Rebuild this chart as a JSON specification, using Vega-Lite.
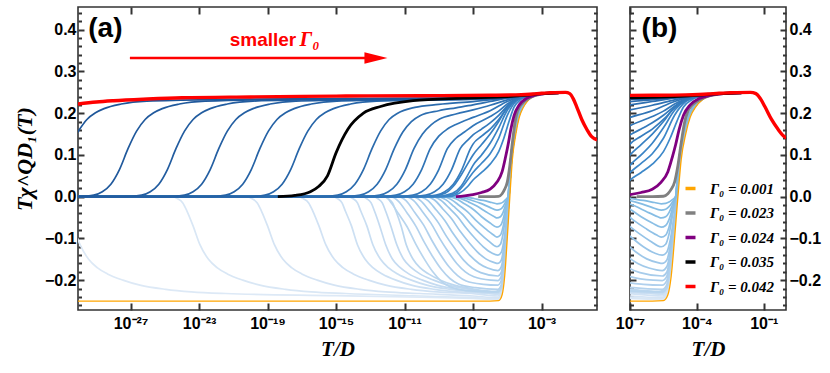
{
"$schema":"https://vega.github.io/schema/vega-lite/v6.json",
"padding":{"left":12,"top":5,"right":0,"bottom":0},
"background":"white",
"config":{
 "view":{"stroke":"#333","strokeWidth":1.6},
 "axis":{"domain":false,"grid":false,"tickColor":"#333","tickWidth":2,"labelFont":"Liberation Sans","labelFontWeight":"bold","labelFontSize":16,"labelColor":"#000","titleFont":"Liberation Serif","titleFontStyle":"italic","titleFontWeight":"bold","titleFontSize":21,"titleColor":"#000"}
},
"datasets":{
"fam":[
{"g":0.002,"T":7.943e-31,"y":-0.1},{"g":0.002,"T":1.122e-30,"y":-0.115},{"g":0.002,"T":3.548e-30,"y":-0.15},{"g":0.002,"T":1.122e-29,"y":-0.17},{"g":0.002,"T":4.467e-29,"y":-0.185},{"g":0.002,"T":3.548e-28,"y":-0.2},{"g":0.002,"T":3.548e-27,"y":-0.212},{"g":0.002,"T":1.122e-25,"y":-0.222},{"g":0.002,"T":3.548e-24,"y":-0.228},{"g":0.002,"T":3.548e-22,"y":-0.232},{"g":0.002,"T":1e-15,"y":-0.237},{"g":0.002,"T":1e-10,"y":-0.241},{"g":0.002,"T":1e-7,"y":-0.244},{"g":0.002,"T":2.818e-6,"y":-0.246},{"g":0.002,"T":4.467e-6,"y":-0.234},{"g":0.002,"T":6.31e-6,"y":-0.185},{"g":0.002,"T":8.913e-6,"y":-0.098},{"g":0.002,"T":1.259e-5,"y":0},{"g":0.002,"T":1.778e-5,"y":0.09},{"g":0.002,"T":2.818e-5,"y":0.15},{"g":0.002,"T":4.467e-5,"y":0.19},{"g":0.002,"T":7.943e-5,"y":0.215},{"g":0.002,"T":1.585e-4,"y":0.232},{"g":0.002,"T":3.548e-4,"y":0.242},{"g":0.002,"T":3.162e-3,"y":0.248},
{"g":0.003,"T":7.943e-31,"y":0},{"g":0.003,"T":2.818e-25,"y":0},{"g":0.003,"T":5.623e-25,"y":-0.005},{"g":0.003,"T":1.122e-24,"y":-0.015},{"g":0.003,"T":1.995e-24,"y":-0.035},{"g":0.003,"T":4.467e-24,"y":-0.07},{"g":0.003,"T":1.122e-23,"y":-0.115},{"g":0.003,"T":3.548e-23,"y":-0.15},{"g":0.003,"T":1.122e-22,"y":-0.17},{"g":0.003,"T":4.467e-22,"y":-0.185},{"g":0.003,"T":3.548e-21,"y":-0.2},{"g":0.003,"T":3.548e-20,"y":-0.212},{"g":0.003,"T":1.122e-18,"y":-0.222},{"g":0.003,"T":3.548e-17,"y":-0.228},{"g":0.003,"T":3.548e-15,"y":-0.232},{"g":0.003,"T":1e-10,"y":-0.238},{"g":0.003,"T":1e-7,"y":-0.242},{"g":0.003,"T":2.818e-6,"y":-0.244},{"g":0.003,"T":4.467e-6,"y":-0.232},{"g":0.003,"T":6.31e-6,"y":-0.183},{"g":0.003,"T":8.913e-6,"y":-0.098},{"g":0.003,"T":1.259e-5,"y":0},{"g":0.003,"T":1.778e-5,"y":0.09},{"g":0.003,"T":2.818e-5,"y":0.15},{"g":0.003,"T":4.467e-5,"y":0.19},{"g":0.003,"T":7.943e-5,"y":0.215},{"g":0.003,"T":1.585e-4,"y":0.232},{"g":0.003,"T":3.548e-4,"y":0.242},{"g":0.003,"T":3.162e-3,"y":0.248},
{"g":0.004,"T":7.943e-31,"y":0},{"g":0.004,"T":6.31e-21,"y":0},{"g":0.004,"T":1.259e-20,"y":-0.005},{"g":0.004,"T":2.512e-20,"y":-0.015},{"g":0.004,"T":4.467e-20,"y":-0.035},{"g":0.004,"T":1e-19,"y":-0.07},{"g":0.004,"T":2.512e-19,"y":-0.115},{"g":0.004,"T":7.943e-19,"y":-0.15},{"g":0.004,"T":2.512e-18,"y":-0.17},{"g":0.004,"T":1e-17,"y":-0.185},{"g":0.004,"T":7.943e-17,"y":-0.2},{"g":0.004,"T":7.943e-16,"y":-0.212},{"g":0.004,"T":2.512e-14,"y":-0.222},{"g":0.004,"T":7.943e-13,"y":-0.228},{"g":0.004,"T":7.943e-11,"y":-0.232},{"g":0.004,"T":1e-7,"y":-0.238},{"g":0.004,"T":2.818e-6,"y":-0.242},{"g":0.004,"T":4.467e-6,"y":-0.23},{"g":0.004,"T":6.31e-6,"y":-0.182},{"g":0.004,"T":8.913e-6,"y":-0.097},{"g":0.004,"T":1.259e-5,"y":0},{"g":0.004,"T":1.778e-5,"y":0.09},{"g":0.004,"T":2.818e-5,"y":0.15},{"g":0.004,"T":4.467e-5,"y":0.19},{"g":0.004,"T":7.943e-5,"y":0.215},{"g":0.004,"T":1.585e-4,"y":0.232},{"g":0.004,"T":3.548e-4,"y":0.242},{"g":0.004,"T":3.162e-3,"y":0.248},
{"g":0.005,"T":7.943e-31,"y":0},{"g":0.005,"T":6.31e-18,"y":0},{"g":0.005,"T":1.259e-17,"y":-0.005},{"g":0.005,"T":2.512e-17,"y":-0.015},{"g":0.005,"T":4.467e-17,"y":-0.035},{"g":0.005,"T":1e-16,"y":-0.07},{"g":0.005,"T":2.512e-16,"y":-0.115},{"g":0.005,"T":7.943e-16,"y":-0.15},{"g":0.005,"T":2.512e-15,"y":-0.17},{"g":0.005,"T":1e-14,"y":-0.185},{"g":0.005,"T":7.943e-14,"y":-0.2},{"g":0.005,"T":7.943e-13,"y":-0.212},{"g":0.005,"T":2.512e-11,"y":-0.222},{"g":0.005,"T":7.943e-10,"y":-0.228},{"g":0.005,"T":7.943e-8,"y":-0.232},{"g":0.005,"T":2.818e-6,"y":-0.238},{"g":0.005,"T":4.467e-6,"y":-0.226},{"g":0.005,"T":6.31e-6,"y":-0.179},{"g":0.005,"T":8.913e-6,"y":-0.095},{"g":0.005,"T":1.259e-5,"y":0},{"g":0.005,"T":1.778e-5,"y":0.09},{"g":0.005,"T":2.818e-5,"y":0.15},{"g":0.005,"T":4.467e-5,"y":0.19},{"g":0.005,"T":7.943e-5,"y":0.215},{"g":0.005,"T":1.585e-4,"y":0.232},{"g":0.005,"T":3.548e-4,"y":0.242},{"g":0.005,"T":3.162e-3,"y":0.248},
{"g":0.006,"T":7.943e-31,"y":0},{"g":0.006,"T":6.31e-16,"y":0},{"g":0.006,"T":1.259e-15,"y":-0.005},{"g":0.006,"T":2.239e-15,"y":-0.015},{"g":0.006,"T":3.548e-15,"y":-0.035},{"g":0.006,"T":7.943e-15,"y":-0.07},{"g":0.006,"T":1.778e-14,"y":-0.115},{"g":0.006,"T":5.012e-14,"y":-0.15},{"g":0.006,"T":1.413e-13,"y":-0.17},{"g":0.006,"T":5.012e-13,"y":-0.185},{"g":0.006,"T":3.162e-12,"y":-0.2},{"g":0.006,"T":2.512e-11,"y":-0.212},{"g":0.006,"T":5.623e-10,"y":-0.222},{"g":0.006,"T":1.259e-8,"y":-0.228},{"g":0.006,"T":7.943e-7,"y":-0.232},{"g":0.006,"T":2.818e-6,"y":-0.234},{"g":0.006,"T":4.467e-6,"y":-0.222},{"g":0.006,"T":6.31e-6,"y":-0.176},{"g":0.006,"T":8.913e-6,"y":-0.094},{"g":0.006,"T":1.259e-5,"y":0},{"g":0.006,"T":1.778e-5,"y":0.09},{"g":0.006,"T":2.818e-5,"y":0.15},{"g":0.006,"T":4.467e-5,"y":0.19},{"g":0.006,"T":7.943e-5,"y":0.215},{"g":0.006,"T":1.585e-4,"y":0.232},{"g":0.006,"T":3.548e-4,"y":0.242},{"g":0.006,"T":3.162e-3,"y":0.248},
{"g":0.007,"T":7.943e-31,"y":0},{"g":0.007,"T":5.012e-15,"y":0},{"g":0.007,"T":1e-14,"y":-0.005},{"g":0.007,"T":1.778e-14,"y":-0.015},{"g":0.007,"T":2.818e-14,"y":-0.035},{"g":0.007,"T":6.31e-14,"y":-0.07},{"g":0.007,"T":1.413e-13,"y":-0.115},{"g":0.007,"T":3.981e-13,"y":-0.15},{"g":0.007,"T":1.122e-12,"y":-0.17},{"g":0.007,"T":3.981e-12,"y":-0.185},{"g":0.007,"T":2.512e-11,"y":-0.2},{"g":0.007,"T":1.995e-10,"y":-0.212},{"g":0.007,"T":4.467e-9,"y":-0.222},{"g":0.007,"T":1e-7,"y":-0.228},{"g":0.007,"T":2.818e-6,"y":-0.232},{"g":0.007,"T":4.467e-6,"y":-0.22},{"g":0.007,"T":6.31e-6,"y":-0.174},{"g":0.007,"T":8.913e-6,"y":-0.093},{"g":0.007,"T":1.259e-5,"y":0},{"g":0.007,"T":1.778e-5,"y":0.09},{"g":0.007,"T":2.818e-5,"y":0.15},{"g":0.007,"T":4.467e-5,"y":0.19},{"g":0.007,"T":7.943e-5,"y":0.215},{"g":0.007,"T":1.585e-4,"y":0.232},{"g":0.007,"T":3.548e-4,"y":0.242},{"g":0.007,"T":3.162e-3,"y":0.248},
{"g":0.008,"T":7.943e-31,"y":0},{"g":0.008,"T":3.548e-14,"y":0},{"g":0.008,"T":6.31e-14,"y":-0.005},{"g":0.008,"T":1.122e-13,"y":-0.015},{"g":0.008,"T":1.778e-13,"y":-0.035},{"g":0.008,"T":3.548e-13,"y":-0.07},{"g":0.008,"T":7.943e-13,"y":-0.115},{"g":0.008,"T":1.995e-12,"y":-0.15},{"g":0.008,"T":5.623e-12,"y":-0.17},{"g":0.008,"T":1.778e-11,"y":-0.185},{"g":0.008,"T":1.122e-10,"y":-0.2},{"g":0.008,"T":7.943e-10,"y":-0.212},{"g":0.008,"T":1.413e-8,"y":-0.222},{"g":0.008,"T":2.512e-7,"y":-0.228},{"g":0.008,"T":2.818e-6,"y":-0.23},{"g":0.008,"T":4.467e-6,"y":-0.219},{"g":0.008,"T":6.31e-6,"y":-0.173},{"g":0.008,"T":8.913e-6,"y":-0.092},{"g":0.008,"T":1.259e-5,"y":0},{"g":0.008,"T":1.778e-5,"y":0.09},{"g":0.008,"T":2.818e-5,"y":0.15},{"g":0.008,"T":4.467e-5,"y":0.19},{"g":0.008,"T":7.943e-5,"y":0.215},{"g":0.008,"T":1.585e-4,"y":0.232},{"g":0.008,"T":3.548e-4,"y":0.242},{"g":0.008,"T":3.162e-3,"y":0.248},
{"g":0.009,"T":7.943e-31,"y":0},{"g":0.009,"T":1.585e-13,"y":0},{"g":0.009,"T":2.818e-13,"y":-0.005},{"g":0.009,"T":5.012e-13,"y":-0.015},{"g":0.009,"T":7.943e-13,"y":-0.035},{"g":0.009,"T":1.585e-12,"y":-0.07},{"g":0.009,"T":3.548e-12,"y":-0.115},{"g":0.009,"T":8.913e-12,"y":-0.15},{"g":0.009,"T":2.512e-11,"y":-0.17},{"g":0.009,"T":7.943e-11,"y":-0.185},{"g":0.009,"T":5.012e-10,"y":-0.2},{"g":0.009,"T":3.548e-9,"y":-0.212},{"g":0.009,"T":6.31e-8,"y":-0.222},{"g":0.009,"T":1.122e-6,"y":-0.228},{"g":0.009,"T":2.818e-6,"y":-0.229},{"g":0.009,"T":4.467e-6,"y":-0.218},{"g":0.009,"T":6.31e-6,"y":-0.172},{"g":0.009,"T":8.913e-6,"y":-0.092},{"g":0.009,"T":1.259e-5,"y":0},{"g":0.009,"T":1.778e-5,"y":0.09},{"g":0.009,"T":2.818e-5,"y":0.15},{"g":0.009,"T":4.467e-5,"y":0.19},{"g":0.009,"T":7.943e-5,"y":0.215},{"g":0.009,"T":1.585e-4,"y":0.232},{"g":0.009,"T":3.548e-4,"y":0.242},{"g":0.009,"T":3.162e-3,"y":0.248},
{"g":0.01,"T":7.943e-31,"y":0},{"g":0.01,"T":6.31e-13,"y":0},{"g":0.01,"T":1.122e-12,"y":-0.005},{"g":0.01,"T":1.995e-12,"y":-0.015},{"g":0.01,"T":3.162e-12,"y":-0.035},{"g":0.01,"T":6.31e-12,"y":-0.07},{"g":0.01,"T":1.259e-11,"y":-0.115},{"g":0.01,"T":3.162e-11,"y":-0.15},{"g":0.01,"T":7.943e-11,"y":-0.17},{"g":0.01,"T":2.512e-10,"y":-0.185},{"g":0.01,"T":1.259e-9,"y":-0.2},{"g":0.01,"T":7.943e-9,"y":-0.212},{"g":0.01,"T":1.259e-7,"y":-0.222},{"g":0.01,"T":1.995e-6,"y":-0.227},{"g":0.01,"T":4.467e-6,"y":-0.216},{"g":0.01,"T":6.31e-6,"y":-0.17},{"g":0.01,"T":8.913e-6,"y":-0.091},{"g":0.01,"T":1.259e-5,"y":0},{"g":0.01,"T":1.778e-5,"y":0.09},{"g":0.01,"T":2.818e-5,"y":0.15},{"g":0.01,"T":4.467e-5,"y":0.19},{"g":0.01,"T":7.943e-5,"y":0.215},{"g":0.01,"T":1.585e-4,"y":0.232},{"g":0.01,"T":3.548e-4,"y":0.242},{"g":0.01,"T":3.162e-3,"y":0.248},
{"g":0.011,"T":7.943e-31,"y":0},{"g":0.011,"T":7.943e-13,"y":0},{"g":0.011,"T":1.413e-12,"y":-0.011},{"g":0.011,"T":4.467e-12,"y":-0.041},{"g":0.011,"T":1.413e-11,"y":-0.072},{"g":0.011,"T":4.467e-11,"y":-0.113},{"g":0.011,"T":1.413e-10,"y":-0.149},{"g":0.011,"T":4.467e-10,"y":-0.18},{"g":0.011,"T":1.413e-9,"y":-0.203},{"g":0.011,"T":4.467e-9,"y":-0.216},{"g":0.011,"T":4.467e-8,"y":-0.225},{"g":0.011,"T":2.818e-6,"y":-0.228},{"g":0.011,"T":4.467e-6,"y":-0.217},{"g":0.011,"T":6.31e-6,"y":-0.171},{"g":0.011,"T":8.913e-6,"y":-0.091},{"g":0.011,"T":1.259e-5,"y":0},{"g":0.011,"T":1.778e-5,"y":0.09},{"g":0.011,"T":2.818e-5,"y":0.15},{"g":0.011,"T":4.467e-5,"y":0.19},{"g":0.011,"T":7.943e-5,"y":0.215},{"g":0.011,"T":1.585e-4,"y":0.232},{"g":0.011,"T":3.548e-4,"y":0.242},{"g":0.011,"T":3.162e-3,"y":0.248},
{"g":0.012,"T":7.943e-31,"y":0},{"g":0.012,"T":1.413e-12,"y":0},{"g":0.012,"T":4.467e-12,"y":-0.011},{"g":0.012,"T":1.413e-11,"y":-0.039},{"g":0.012,"T":4.467e-11,"y":-0.07},{"g":0.012,"T":1.413e-10,"y":-0.109},{"g":0.012,"T":4.467e-10,"y":-0.144},{"g":0.012,"T":1.413e-9,"y":-0.174},{"g":0.012,"T":4.467e-9,"y":-0.196},{"g":0.012,"T":1.413e-8,"y":-0.209},{"g":0.012,"T":1.413e-7,"y":-0.218},{"g":0.012,"T":2.818e-6,"y":-0.222},{"g":0.012,"T":4.467e-6,"y":-0.211},{"g":0.012,"T":6.31e-6,"y":-0.167},{"g":0.012,"T":8.913e-6,"y":-0.089},{"g":0.012,"T":1.259e-5,"y":0},{"g":0.012,"T":1.778e-5,"y":0.09},{"g":0.012,"T":2.818e-5,"y":0.15},{"g":0.012,"T":4.467e-5,"y":0.19},{"g":0.012,"T":7.943e-5,"y":0.215},{"g":0.012,"T":1.585e-4,"y":0.232},{"g":0.012,"T":3.548e-4,"y":0.242},{"g":0.012,"T":3.162e-3,"y":0.248},
{"g":0.013,"T":7.943e-31,"y":0},{"g":0.013,"T":3.981e-12,"y":0},{"g":0.013,"T":1.259e-11,"y":-0.01},{"g":0.013,"T":3.981e-11,"y":-0.038},{"g":0.013,"T":1.259e-10,"y":-0.067},{"g":0.013,"T":3.981e-10,"y":-0.105},{"g":0.013,"T":1.259e-9,"y":-0.139},{"g":0.013,"T":3.981e-9,"y":-0.168},{"g":0.013,"T":1.259e-8,"y":-0.189},{"g":0.013,"T":3.981e-8,"y":-0.202},{"g":0.013,"T":3.981e-7,"y":-0.21},{"g":0.013,"T":2.818e-6,"y":-0.212},{"g":0.013,"T":4.467e-6,"y":-0.201},{"g":0.013,"T":6.31e-6,"y":-0.159},{"g":0.013,"T":8.913e-6,"y":-0.085},{"g":0.013,"T":1.259e-5,"y":0},{"g":0.013,"T":1.778e-5,"y":0.09},{"g":0.013,"T":2.818e-5,"y":0.15},{"g":0.013,"T":4.467e-5,"y":0.19},{"g":0.013,"T":7.943e-5,"y":0.215},{"g":0.013,"T":1.585e-4,"y":0.232},{"g":0.013,"T":3.548e-4,"y":0.242},{"g":0.013,"T":3.162e-3,"y":0.248},
{"g":0.014,"T":7.943e-31,"y":0},{"g":0.014,"T":1.122e-11,"y":0},{"g":0.014,"T":3.548e-11,"y":-0.01},{"g":0.014,"T":1.122e-10,"y":-0.036},{"g":0.014,"T":3.548e-10,"y":-0.064},{"g":0.014,"T":1.122e-9,"y":-0.1},{"g":0.014,"T":3.548e-9,"y":-0.132},{"g":0.014,"T":1.122e-8,"y":-0.16},{"g":0.014,"T":3.548e-8,"y":-0.18},{"g":0.014,"T":1.122e-7,"y":-0.192},{"g":0.014,"T":1.122e-6,"y":-0.2},{"g":0.014,"T":2.818e-6,"y":-0.201},{"g":0.014,"T":4.467e-6,"y":-0.191},{"g":0.014,"T":6.31e-6,"y":-0.151},{"g":0.014,"T":8.913e-6,"y":-0.08},{"g":0.014,"T":1.259e-5,"y":0},{"g":0.014,"T":1.778e-5,"y":0.09},{"g":0.014,"T":2.818e-5,"y":0.15},{"g":0.014,"T":4.467e-5,"y":0.19},{"g":0.014,"T":7.943e-5,"y":0.215},{"g":0.014,"T":1.585e-4,"y":0.232},{"g":0.014,"T":3.548e-4,"y":0.242},{"g":0.014,"T":3.162e-3,"y":0.248},
{"g":0.015,"T":7.943e-31,"y":0},{"g":0.015,"T":2.818e-11,"y":0},{"g":0.015,"T":8.913e-11,"y":-0.01},{"g":0.015,"T":2.818e-10,"y":-0.034},{"g":0.015,"T":8.913e-10,"y":-0.061},{"g":0.015,"T":2.818e-9,"y":-0.095},{"g":0.015,"T":8.913e-9,"y":-0.125},{"g":0.015,"T":2.818e-8,"y":-0.152},{"g":0.015,"T":8.913e-8,"y":-0.171},{"g":0.015,"T":2.818e-7,"y":-0.182},{"g":0.015,"T":2.818e-6,"y":-0.19},{"g":0.015,"T":4.467e-6,"y":-0.181},{"g":0.015,"T":6.31e-6,"y":-0.143},{"g":0.015,"T":8.913e-6,"y":-0.076},{"g":0.015,"T":1.259e-5,"y":0},{"g":0.015,"T":1.778e-5,"y":0.09},{"g":0.015,"T":2.818e-5,"y":0.15},{"g":0.015,"T":4.467e-5,"y":0.19},{"g":0.015,"T":7.943e-5,"y":0.215},{"g":0.015,"T":1.585e-4,"y":0.232},{"g":0.015,"T":3.548e-4,"y":0.242},{"g":0.015,"T":3.162e-3,"y":0.248},
{"g":0.016,"T":7.943e-31,"y":0},{"g":0.016,"T":7.079e-11,"y":0},{"g":0.016,"T":2.239e-10,"y":-0.009},{"g":0.016,"T":7.079e-10,"y":-0.032},{"g":0.016,"T":2.239e-9,"y":-0.057},{"g":0.016,"T":7.079e-9,"y":-0.089},{"g":0.016,"T":2.239e-8,"y":-0.117},{"g":0.016,"T":7.079e-8,"y":-0.142},{"g":0.016,"T":2.239e-7,"y":-0.16},{"g":0.016,"T":7.079e-7,"y":-0.171},{"g":0.016,"T":2.818e-6,"y":-0.177},{"g":0.016,"T":4.467e-6,"y":-0.168},{"g":0.016,"T":6.31e-6,"y":-0.133},{"g":0.016,"T":8.913e-6,"y":-0.071},{"g":0.016,"T":1.259e-5,"y":0},{"g":0.016,"T":1.778e-5,"y":0.09},{"g":0.016,"T":2.818e-5,"y":0.15},{"g":0.016,"T":4.467e-5,"y":0.19},{"g":0.016,"T":7.943e-5,"y":0.215},{"g":0.016,"T":1.585e-4,"y":0.232},{"g":0.016,"T":3.548e-4,"y":0.242},{"g":0.016,"T":3.162e-3,"y":0.248},
{"g":0.017,"T":7.943e-31,"y":0},{"g":0.017,"T":1.778e-10,"y":0},{"g":0.017,"T":5.623e-10,"y":-0.008},{"g":0.017,"T":1.778e-9,"y":-0.03},{"g":0.017,"T":5.623e-9,"y":-0.053},{"g":0.017,"T":1.778e-8,"y":-0.083},{"g":0.017,"T":5.623e-8,"y":-0.109},{"g":0.017,"T":1.778e-7,"y":-0.132},{"g":0.017,"T":5.623e-7,"y":-0.149},{"g":0.017,"T":1.778e-6,"y":-0.158},{"g":0.017,"T":2.818e-6,"y":-0.16},{"g":0.017,"T":4.467e-6,"y":-0.152},{"g":0.017,"T":6.31e-6,"y":-0.12},{"g":0.017,"T":8.913e-6,"y":-0.064},{"g":0.017,"T":1.259e-5,"y":0},{"g":0.017,"T":1.778e-5,"y":0.09},{"g":0.017,"T":2.818e-5,"y":0.15},{"g":0.017,"T":4.467e-5,"y":0.19},{"g":0.017,"T":7.943e-5,"y":0.215},{"g":0.017,"T":1.585e-4,"y":0.232},{"g":0.017,"T":3.548e-4,"y":0.242},{"g":0.017,"T":3.162e-3,"y":0.248},
{"g":0.018,"T":7.943e-31,"y":0},{"g":0.018,"T":3.981e-10,"y":0},{"g":0.018,"T":1.259e-9,"y":-0.008},{"g":0.018,"T":3.981e-9,"y":-0.027},{"g":0.018,"T":1.259e-8,"y":-0.048},{"g":0.018,"T":3.981e-8,"y":-0.075},{"g":0.018,"T":1.259e-7,"y":-0.099},{"g":0.018,"T":3.981e-7,"y":-0.12},{"g":0.018,"T":1.259e-6,"y":-0.135},{"g":0.018,"T":2.818e-6,"y":-0.14},{"g":0.018,"T":4.467e-6,"y":-0.133},{"g":0.018,"T":6.31e-6,"y":-0.105},{"g":0.018,"T":8.913e-6,"y":-0.056},{"g":0.018,"T":1.259e-5,"y":0},{"g":0.018,"T":1.778e-5,"y":0.09},{"g":0.018,"T":2.818e-5,"y":0.15},{"g":0.018,"T":4.467e-5,"y":0.19},{"g":0.018,"T":7.943e-5,"y":0.215},{"g":0.018,"T":1.585e-4,"y":0.232},{"g":0.018,"T":3.548e-4,"y":0.242},{"g":0.018,"T":3.162e-3,"y":0.248},
{"g":0.019,"T":7.943e-31,"y":0},{"g":0.019,"T":7.943e-10,"y":0},{"g":0.019,"T":2.512e-9,"y":-0.007},{"g":0.019,"T":7.943e-9,"y":-0.024},{"g":0.019,"T":2.512e-8,"y":-0.043},{"g":0.019,"T":7.943e-8,"y":-0.067},{"g":0.019,"T":2.512e-7,"y":-0.088},{"g":0.019,"T":7.943e-7,"y":-0.106},{"g":0.019,"T":2.512e-6,"y":-0.12},{"g":0.019,"T":3.981e-6,"y":-0.114},{"g":0.019,"T":5.623e-6,"y":-0.09},{"g":0.019,"T":7.943e-6,"y":-0.048},{"g":0.019,"T":1.122e-5,"y":0},{"g":0.019,"T":1.585e-5,"y":0.09},{"g":0.019,"T":2.512e-5,"y":0.15},{"g":0.019,"T":3.981e-5,"y":0.19},{"g":0.019,"T":7.079e-5,"y":0.215},{"g":0.019,"T":1.413e-4,"y":0.232},{"g":0.019,"T":3.162e-4,"y":0.242},{"g":0.019,"T":3.162e-3,"y":0.248},
{"g":0.02,"T":7.943e-31,"y":0},{"g":0.02,"T":1.585e-9,"y":0},{"g":0.02,"T":5.012e-9,"y":-0.006},{"g":0.02,"T":1.585e-8,"y":-0.021},{"g":0.02,"T":5.012e-8,"y":-0.037},{"g":0.02,"T":1.585e-7,"y":-0.058},{"g":0.02,"T":5.012e-7,"y":-0.076},{"g":0.02,"T":1.585e-6,"y":-0.092},{"g":0.02,"T":2.512e-6,"y":-0.097},{"g":0.02,"T":3.981e-6,"y":-0.092},{"g":0.02,"T":5.623e-6,"y":-0.073},{"g":0.02,"T":7.943e-6,"y":-0.039},{"g":0.02,"T":1.122e-5,"y":0},{"g":0.02,"T":1.585e-5,"y":0.09},{"g":0.02,"T":2.512e-5,"y":0.15},{"g":0.02,"T":3.981e-5,"y":0.19},{"g":0.02,"T":7.079e-5,"y":0.215},{"g":0.02,"T":1.413e-4,"y":0.232},{"g":0.02,"T":3.162e-4,"y":0.242},{"g":0.02,"T":3.162e-3,"y":0.248},
{"g":0.021,"T":7.943e-31,"y":0},{"g":0.021,"T":3.162e-9,"y":0},{"g":0.021,"T":1e-8,"y":-0.005},{"g":0.021,"T":3.162e-8,"y":-0.017},{"g":0.021,"T":1e-7,"y":-0.03},{"g":0.021,"T":3.162e-7,"y":-0.048},{"g":0.021,"T":1e-6,"y":-0.063},{"g":0.021,"T":2.512e-6,"y":-0.073},{"g":0.021,"T":3.981e-6,"y":-0.069},{"g":0.021,"T":5.623e-6,"y":-0.055},{"g":0.021,"T":7.943e-6,"y":-0.029},{"g":0.021,"T":1.122e-5,"y":0},{"g":0.021,"T":1.585e-5,"y":0.09},{"g":0.021,"T":2.512e-5,"y":0.15},{"g":0.021,"T":3.981e-5,"y":0.19},{"g":0.021,"T":7.079e-5,"y":0.215},{"g":0.021,"T":1.413e-4,"y":0.232},{"g":0.021,"T":3.162e-4,"y":0.242},{"g":0.021,"T":3.162e-3,"y":0.248},
{"g":0.022,"T":7.943e-31,"y":0},{"g":0.022,"T":5.623e-9,"y":0},{"g":0.022,"T":1.778e-8,"y":-0.004},{"g":0.022,"T":5.623e-8,"y":-0.013},{"g":0.022,"T":1.778e-7,"y":-0.023},{"g":0.022,"T":5.623e-7,"y":-0.036},{"g":0.022,"T":1.778e-6,"y":-0.048},{"g":0.022,"T":2.512e-6,"y":-0.051},{"g":0.022,"T":3.981e-6,"y":-0.048},{"g":0.022,"T":5.623e-6,"y":-0.038},{"g":0.022,"T":7.943e-6,"y":-0.02},{"g":0.022,"T":1.122e-5,"y":0},{"g":0.022,"T":1.585e-5,"y":0.09},{"g":0.022,"T":2.512e-5,"y":0.15},{"g":0.022,"T":3.981e-5,"y":0.19},{"g":0.022,"T":7.079e-5,"y":0.215},{"g":0.022,"T":1.413e-4,"y":0.232},{"g":0.022,"T":3.162e-4,"y":0.242},{"g":0.022,"T":3.162e-3,"y":0.248},
{"g":0.0224,"T":7.943e-31,"y":0},{"g":0.0224,"T":8.913e-9,"y":0},{"g":0.0224,"T":2.818e-8,"y":-0.003},{"g":0.0224,"T":8.913e-8,"y":-0.009},{"g":0.0224,"T":2.818e-7,"y":-0.016},{"g":0.0224,"T":8.913e-7,"y":-0.025},{"g":0.0224,"T":2.512e-6,"y":-0.032},{"g":0.0224,"T":3.981e-6,"y":-0.03},{"g":0.0224,"T":5.623e-6,"y":-0.024},{"g":0.0224,"T":7.943e-6,"y":-0.013},{"g":0.0224,"T":1.122e-5,"y":0},{"g":0.0224,"T":1.585e-5,"y":0.09},{"g":0.0224,"T":2.512e-5,"y":0.15},{"g":0.0224,"T":3.981e-5,"y":0.19},{"g":0.0224,"T":7.079e-5,"y":0.215},{"g":0.0224,"T":1.413e-4,"y":0.232},{"g":0.0224,"T":3.162e-4,"y":0.242},{"g":0.0224,"T":3.162e-3,"y":0.248},
{"g":0.0228,"T":7.943e-31,"y":0},{"g":0.0228,"T":1.259e-8,"y":0},{"g":0.0228,"T":3.981e-8,"y":-0.001},{"g":0.0228,"T":1.259e-7,"y":-0.005},{"g":0.0228,"T":3.981e-7,"y":-0.009},{"g":0.0228,"T":1.259e-6,"y":-0.014},{"g":0.0228,"T":2.512e-6,"y":-0.017},{"g":0.0228,"T":3.981e-6,"y":-0.016},{"g":0.0228,"T":5.623e-6,"y":-0.013},{"g":0.0228,"T":7.943e-6,"y":-0.007},{"g":0.0228,"T":1.122e-5,"y":0},{"g":0.0228,"T":1.585e-5,"y":0.09},{"g":0.0228,"T":2.512e-5,"y":0.15},{"g":0.0228,"T":3.981e-5,"y":0.19},{"g":0.0228,"T":7.079e-5,"y":0.215},{"g":0.0228,"T":1.413e-4,"y":0.232},{"g":0.0228,"T":3.162e-4,"y":0.242},{"g":0.0228,"T":3.162e-3,"y":0.248},
{"g":0.0245,"T":7.943e-31,"y":0},{"g":0.0245,"T":3.162e-9,"y":0},{"g":0.0245,"T":1.585e-8,"y":0.008},{"g":0.0245,"T":5.012e-8,"y":0.025},{"g":0.0245,"T":1e-7,"y":0.04},{"g":0.0245,"T":3.162e-7,"y":0.058},{"g":0.0245,"T":1e-6,"y":0.078},{"g":0.0245,"T":3.162e-6,"y":0.108},{"g":0.0245,"T":6.31e-6,"y":0.14},{"g":0.0245,"T":1.259e-5,"y":0.18},{"g":0.0245,"T":2.512e-5,"y":0.215},{"g":0.0245,"T":6.31e-5,"y":0.233},{"g":0.0245,"T":1.995e-4,"y":0.242},{"g":0.0245,"T":3.162e-3,"y":0.248},
{"g":0.025,"T":7.943e-31,"y":0},{"g":0.025,"T":1.585e-9,"y":0},{"g":0.025,"T":1e-8,"y":0.008},{"g":0.025,"T":3.162e-8,"y":0.03},{"g":0.025,"T":1e-7,"y":0.058},{"g":0.025,"T":3.162e-7,"y":0.08},{"g":0.025,"T":1e-6,"y":0.103},{"g":0.025,"T":3.162e-6,"y":0.14},{"g":0.025,"T":1e-5,"y":0.195},{"g":0.025,"T":3.162e-5,"y":0.228},{"g":0.025,"T":1e-4,"y":0.239},{"g":0.025,"T":3.162e-4,"y":0.245},{"g":0.025,"T":3.162e-3,"y":0.248},
{"g":0.026,"T":7.943e-31,"y":0},{"g":0.026,"T":6.31e-10,"y":0},{"g":0.026,"T":6.31e-9,"y":0.008},{"g":0.026,"T":1.995e-8,"y":0.025},{"g":0.026,"T":6.31e-8,"y":0.06},{"g":0.026,"T":1e-7,"y":0.075},{"g":0.026,"T":3.162e-7,"y":0.1},{"g":0.026,"T":1e-6,"y":0.128},{"g":0.026,"T":3.162e-6,"y":0.165},{"g":0.026,"T":1e-5,"y":0.207},{"g":0.026,"T":3.162e-5,"y":0.231},{"g":0.026,"T":1e-4,"y":0.24},{"g":0.026,"T":3.162e-4,"y":0.245},{"g":0.026,"T":3.162e-3,"y":0.248},
{"g":0.027,"T":7.943e-31,"y":0},{"g":0.027,"T":2.239e-10,"y":0},{"g":0.027,"T":2.239e-9,"y":0.008},{"g":0.027,"T":7.079e-9,"y":0.025},{"g":0.027,"T":2.239e-8,"y":0.055},{"g":0.027,"T":7.079e-8,"y":0.09},{"g":0.027,"T":1e-7,"y":0.1},{"g":0.027,"T":3.162e-7,"y":0.125},{"g":0.027,"T":1e-6,"y":0.15},{"g":0.027,"T":3.162e-6,"y":0.18},{"g":0.027,"T":1e-5,"y":0.215},{"g":0.027,"T":3.162e-5,"y":0.233},{"g":0.027,"T":1e-4,"y":0.24},{"g":0.027,"T":3.162e-4,"y":0.245},{"g":0.027,"T":3.162e-3,"y":0.248},
{"g":0.028,"T":7.943e-31,"y":0},{"g":0.028,"T":7.079e-11,"y":0},{"g":0.028,"T":7.079e-10,"y":0.004},{"g":0.028,"T":2.239e-9,"y":0.012},{"g":0.028,"T":7.079e-9,"y":0.03},{"g":0.028,"T":2.239e-8,"y":0.065},{"g":0.028,"T":7.079e-8,"y":0.115},{"g":0.028,"T":1e-7,"y":0.126},{"g":0.028,"T":3.162e-7,"y":0.145},{"g":0.028,"T":1e-6,"y":0.162},{"g":0.028,"T":3.162e-6,"y":0.185},{"g":0.028,"T":1e-5,"y":0.212},{"g":0.028,"T":3.162e-5,"y":0.23},{"g":0.028,"T":1e-4,"y":0.239},{"g":0.028,"T":3.162e-4,"y":0.245},{"g":0.028,"T":3.162e-3,"y":0.248},
{"g":0.029,"T":7.943e-31,"y":0},{"g":0.029,"T":1.778e-11,"y":0},{"g":0.029,"T":1.778e-10,"y":0.004},{"g":0.029,"T":5.623e-10,"y":0.012},{"g":0.029,"T":1.778e-9,"y":0.03},{"g":0.029,"T":5.623e-9,"y":0.065},{"g":0.029,"T":1.778e-8,"y":0.115},{"g":0.029,"T":5.623e-8,"y":0.138},{"g":0.029,"T":1e-7,"y":0.148},{"g":0.029,"T":3.162e-7,"y":0.162},{"g":0.029,"T":1e-6,"y":0.177},{"g":0.029,"T":3.162e-6,"y":0.195},{"g":0.029,"T":1e-5,"y":0.217},{"g":0.029,"T":3.162e-5,"y":0.232},{"g":0.029,"T":1e-4,"y":0.24},{"g":0.029,"T":3.162e-4,"y":0.245},{"g":0.029,"T":3.162e-3,"y":0.248},
{"g":0.03,"T":7.943e-31,"y":0},{"g":0.03,"T":3.162e-12,"y":0},{"g":0.03,"T":3.162e-11,"y":0.004},{"g":0.03,"T":1e-10,"y":0.012},{"g":0.03,"T":3.162e-10,"y":0.03},{"g":0.03,"T":1e-9,"y":0.065},{"g":0.03,"T":3.162e-9,"y":0.115},{"g":0.03,"T":1e-8,"y":0.14},{"g":0.03,"T":3.162e-8,"y":0.155},{"g":0.03,"T":1e-7,"y":0.17},{"g":0.03,"T":1e-6,"y":0.192},{"g":0.03,"T":3.162e-6,"y":0.205},{"g":0.03,"T":1e-5,"y":0.222},{"g":0.03,"T":3.162e-5,"y":0.234},{"g":0.03,"T":1e-4,"y":0.241},{"g":0.03,"T":3.162e-4,"y":0.245},{"g":0.03,"T":3.162e-3,"y":0.248},
{"g":0.031,"T":7.943e-31,"y":0},{"g":0.031,"T":3.162e-13,"y":0},{"g":0.031,"T":3.162e-12,"y":0.004},{"g":0.031,"T":1e-11,"y":0.012},{"g":0.031,"T":3.162e-11,"y":0.03},{"g":0.031,"T":1e-10,"y":0.065},{"g":0.031,"T":3.162e-10,"y":0.115},{"g":0.031,"T":1e-9,"y":0.145},{"g":0.031,"T":3.162e-9,"y":0.162},{"g":0.031,"T":1e-8,"y":0.173},{"g":0.031,"T":1e-7,"y":0.19},{"g":0.031,"T":1e-6,"y":0.206},{"g":0.031,"T":1e-5,"y":0.228},{"g":0.031,"T":3.162e-5,"y":0.236},{"g":0.031,"T":3.162e-4,"y":0.245},{"g":0.031,"T":3.162e-3,"y":0.248},
{"g":0.032,"T":7.943e-31,"y":0},{"g":0.032,"T":3.548e-14,"y":0},{"g":0.032,"T":3.548e-13,"y":0.004},{"g":0.032,"T":1.122e-12,"y":0.012},{"g":0.032,"T":3.548e-12,"y":0.03},{"g":0.032,"T":1.122e-11,"y":0.065},{"g":0.032,"T":3.548e-11,"y":0.115},{"g":0.032,"T":1.122e-10,"y":0.15},{"g":0.032,"T":3.548e-10,"y":0.172},{"g":0.032,"T":1.122e-9,"y":0.186},{"g":0.032,"T":1e-8,"y":0.198},{"g":0.032,"T":1e-7,"y":0.208},{"g":0.032,"T":1e-6,"y":0.219},{"g":0.032,"T":1e-5,"y":0.232},{"g":0.032,"T":3.162e-5,"y":0.238},{"g":0.032,"T":3.162e-4,"y":0.245},{"g":0.032,"T":3.162e-3,"y":0.248},
{"g":0.033,"T":7.943e-31,"y":0},{"g":0.033,"T":2.512e-15,"y":0},{"g":0.033,"T":2.512e-14,"y":0.004},{"g":0.033,"T":7.943e-14,"y":0.012},{"g":0.033,"T":2.512e-13,"y":0.03},{"g":0.033,"T":7.943e-13,"y":0.065},{"g":0.033,"T":2.512e-12,"y":0.115},{"g":0.033,"T":7.943e-12,"y":0.155},{"g":0.033,"T":2.512e-11,"y":0.18},{"g":0.033,"T":7.943e-11,"y":0.194},{"g":0.033,"T":1e-9,"y":0.206},{"g":0.033,"T":1e-8,"y":0.213},{"g":0.033,"T":1e-7,"y":0.22},{"g":0.033,"T":1e-6,"y":0.228},{"g":0.033,"T":1e-5,"y":0.236},{"g":0.033,"T":3.162e-5,"y":0.239},{"g":0.033,"T":3.162e-4,"y":0.245},{"g":0.033,"T":3.162e-3,"y":0.248},
{"g":0.034,"T":7.943e-31,"y":0},{"g":0.034,"T":1.259e-16,"y":0},{"g":0.034,"T":1.259e-15,"y":0.004},{"g":0.034,"T":3.981e-15,"y":0.012},{"g":0.034,"T":1.259e-14,"y":0.03},{"g":0.034,"T":3.981e-14,"y":0.065},{"g":0.034,"T":1.259e-13,"y":0.115},{"g":0.034,"T":3.981e-13,"y":0.157},{"g":0.034,"T":1.259e-12,"y":0.185},{"g":0.034,"T":3.981e-12,"y":0.2},{"g":0.034,"T":3.981e-11,"y":0.214},{"g":0.034,"T":1e-9,"y":0.221},{"g":0.034,"T":1e-7,"y":0.228},{"g":0.034,"T":3.162e-6,"y":0.234},{"g":0.034,"T":3.162e-5,"y":0.239},{"g":0.034,"T":3.162e-4,"y":0.245},{"g":0.034,"T":3.162e-3,"y":0.248},
{"g":0.036,"T":7.943e-31,"y":0},{"g":0.036,"T":7.079e-21,"y":0},{"g":0.036,"T":7.079e-20,"y":0.004},{"g":0.036,"T":2.239e-19,"y":0.012},{"g":0.036,"T":7.079e-19,"y":0.03},{"g":0.036,"T":2.239e-18,"y":0.065},{"g":0.036,"T":7.079e-18,"y":0.115},{"g":0.036,"T":2.239e-17,"y":0.157},{"g":0.036,"T":7.079e-17,"y":0.185},{"g":0.036,"T":2.239e-16,"y":0.201},{"g":0.036,"T":7.079e-16,"y":0.211},{"g":0.036,"T":7.079e-15,"y":0.222},{"g":0.036,"T":2.239e-13,"y":0.229},{"g":0.036,"T":1e-9,"y":0.232},{"g":0.036,"T":1e-6,"y":0.235},{"g":0.036,"T":3.162e-5,"y":0.24},{"g":0.036,"T":3.162e-4,"y":0.245},{"g":0.036,"T":3.162e-3,"y":0.248},
{"g":0.037,"T":7.943e-31,"y":0},{"g":0.037,"T":3.548e-23,"y":0},{"g":0.037,"T":3.548e-22,"y":0.004},{"g":0.037,"T":1.122e-21,"y":0.012},{"g":0.037,"T":3.548e-21,"y":0.03},{"g":0.037,"T":1.122e-20,"y":0.065},{"g":0.037,"T":3.548e-20,"y":0.115},{"g":0.037,"T":1.122e-19,"y":0.157},{"g":0.037,"T":3.548e-19,"y":0.185},{"g":0.037,"T":1.122e-18,"y":0.201},{"g":0.037,"T":3.548e-18,"y":0.211},{"g":0.037,"T":3.548e-17,"y":0.222},{"g":0.037,"T":1.122e-15,"y":0.229},{"g":0.037,"T":1e-11,"y":0.232},{"g":0.037,"T":1e-8,"y":0.233},{"g":0.037,"T":1e-6,"y":0.235},{"g":0.037,"T":3.162e-5,"y":0.24},{"g":0.037,"T":3.162e-4,"y":0.245},{"g":0.037,"T":3.162e-3,"y":0.248},
{"g":0.038,"T":7.943e-31,"y":0},{"g":0.038,"T":1.413e-25,"y":0},{"g":0.038,"T":1.413e-24,"y":0.004},{"g":0.038,"T":4.467e-24,"y":0.012},{"g":0.038,"T":1.413e-23,"y":0.03},{"g":0.038,"T":4.467e-23,"y":0.065},{"g":0.038,"T":1.413e-22,"y":0.115},{"g":0.038,"T":4.467e-22,"y":0.157},{"g":0.038,"T":1.413e-21,"y":0.185},{"g":0.038,"T":4.467e-21,"y":0.201},{"g":0.038,"T":1.413e-20,"y":0.211},{"g":0.038,"T":1.413e-19,"y":0.222},{"g":0.038,"T":4.467e-18,"y":0.229},{"g":0.038,"T":1e-13,"y":0.232},{"g":0.038,"T":1e-9,"y":0.233},{"g":0.038,"T":1e-6,"y":0.235},{"g":0.038,"T":3.162e-5,"y":0.24},{"g":0.038,"T":3.162e-4,"y":0.245},{"g":0.038,"T":3.162e-3,"y":0.248},
{"g":0.039,"T":7.943e-31,"y":0},{"g":0.039,"T":4.467e-28,"y":0},{"g":0.039,"T":4.467e-27,"y":0.004},{"g":0.039,"T":1.413e-26,"y":0.012},{"g":0.039,"T":4.467e-26,"y":0.03},{"g":0.039,"T":1.413e-25,"y":0.065},{"g":0.039,"T":4.467e-25,"y":0.115},{"g":0.039,"T":1.413e-24,"y":0.157},{"g":0.039,"T":4.467e-24,"y":0.185},{"g":0.039,"T":1.413e-23,"y":0.201},{"g":0.039,"T":4.467e-23,"y":0.211},{"g":0.039,"T":4.467e-22,"y":0.222},{"g":0.039,"T":1.413e-20,"y":0.229},{"g":0.039,"T":1e-15,"y":0.233},{"g":0.039,"T":1e-10,"y":0.234},{"g":0.039,"T":1e-6,"y":0.236},{"g":0.039,"T":3.162e-5,"y":0.24},{"g":0.039,"T":3.162e-4,"y":0.245},{"g":0.039,"T":3.162e-3,"y":0.248},
{"g":0.04,"T":7.943e-31,"y":0},{"g":0.04,"T":7.079e-30,"y":0.004},{"g":0.04,"T":2.239e-29,"y":0.012},{"g":0.04,"T":7.079e-29,"y":0.03},{"g":0.04,"T":2.239e-28,"y":0.065},{"g":0.04,"T":7.079e-28,"y":0.115},{"g":0.04,"T":2.239e-27,"y":0.157},{"g":0.04,"T":7.079e-27,"y":0.185},{"g":0.04,"T":2.239e-26,"y":0.201},{"g":0.04,"T":7.079e-26,"y":0.211},{"g":0.04,"T":7.079e-25,"y":0.222},{"g":0.04,"T":2.239e-23,"y":0.229},{"g":0.04,"T":1e-18,"y":0.233},{"g":0.04,"T":1e-12,"y":0.234},{"g":0.04,"T":1e-6,"y":0.236},{"g":0.04,"T":3.162e-5,"y":0.24},{"g":0.04,"T":3.162e-4,"y":0.245},{"g":0.04,"T":3.162e-3,"y":0.248},
{"g":0.041,"T":7.943e-31,"y":0.154},{"g":0.041,"T":2.818e-30,"y":0.185},{"g":0.041,"T":8.913e-30,"y":0.201},{"g":0.041,"T":2.818e-29,"y":0.211},{"g":0.041,"T":2.818e-28,"y":0.222},{"g":0.041,"T":8.913e-27,"y":0.229},{"g":0.041,"T":1e-22,"y":0.233},{"g":0.041,"T":1e-15,"y":0.235},{"g":0.041,"T":1e-10,"y":0.236},{"g":0.041,"T":1e-6,"y":0.237},{"g":0.041,"T":3.162e-5,"y":0.24},{"g":0.041,"T":3.162e-4,"y":0.245},{"g":0.041,"T":3.162e-3,"y":0.248}
],
"spec":[
{"n":"Γ₀ = 0.001","T":7.943e-31,"y":-0.25},{"n":"Γ₀ = 0.001","T":1e-6,"y":-0.25},{"n":"Γ₀ = 0.001","T":3.162e-6,"y":-0.249},{"n":"Γ₀ = 0.001","T":5.012e-6,"y":-0.235},{"n":"Γ₀ = 0.001","T":7.079e-6,"y":-0.19},{"n":"Γ₀ = 0.001","T":1e-5,"y":-0.1},{"n":"Γ₀ = 0.001","T":1.413e-5,"y":0},{"n":"Γ₀ = 0.001","T":1.995e-5,"y":0.09},{"n":"Γ₀ = 0.001","T":3.162e-5,"y":0.15},{"n":"Γ₀ = 0.001","T":5.012e-5,"y":0.19},{"n":"Γ₀ = 0.001","T":8.913e-5,"y":0.215},{"n":"Γ₀ = 0.001","T":1.778e-4,"y":0.232},{"n":"Γ₀ = 0.001","T":3.981e-4,"y":0.242},{"n":"Γ₀ = 0.001","T":1e-3,"y":0.246},{"n":"Γ₀ = 0.001","T":1e-2,"y":0.249},
{"n":"Γ₀ = 0.023","T":2e-7,"y":0},{"n":"Γ₀ = 0.023","T":1e-6,"y":0},{"n":"Γ₀ = 0.023","T":3.162e-6,"y":0.001},{"n":"Γ₀ = 0.023","T":5.012e-6,"y":0.007},{"n":"Γ₀ = 0.023","T":7.079e-6,"y":0.018},{"n":"Γ₀ = 0.023","T":1e-5,"y":0.035},{"n":"Γ₀ = 0.023","T":1.413e-5,"y":0.075},{"n":"Γ₀ = 0.023","T":1.995e-5,"y":0.13},{"n":"Γ₀ = 0.023","T":2.818e-5,"y":0.178},{"n":"Γ₀ = 0.023","T":3.981e-5,"y":0.205},{"n":"Γ₀ = 0.023","T":5.012e-5,"y":0.214},{"n":"Γ₀ = 0.023","T":1e-4,"y":0.228},{"n":"Γ₀ = 0.023","T":1.585e-4,"y":0.234},{"n":"Γ₀ = 0.023","T":3.981e-4,"y":0.242},{"n":"Γ₀ = 0.023","T":1e-3,"y":0.246},{"n":"Γ₀ = 0.023","T":1e-2,"y":0.249},
{"n":"Γ₀ = 0.024","T":1e-8,"y":0.0},{"n":"Γ₀ = 0.024","T":3.162e-8,"y":0.002},{"n":"Γ₀ = 0.024","T":1e-7,"y":0.005},{"n":"Γ₀ = 0.024","T":3.162e-7,"y":0.01},{"n":"Γ₀ = 0.024","T":1e-6,"y":0.018},{"n":"Γ₀ = 0.024","T":2.512e-6,"y":0.035},{"n":"Γ₀ = 0.024","T":5.012e-6,"y":0.06},{"n":"Γ₀ = 0.024","T":7.943e-6,"y":0.095},{"n":"Γ₀ = 0.024","T":1.122e-5,"y":0.125},{"n":"Γ₀ = 0.024","T":1.585e-5,"y":0.16},{"n":"Γ₀ = 0.024","T":2.512e-5,"y":0.195},{"n":"Γ₀ = 0.024","T":5.012e-5,"y":0.22},{"n":"Γ₀ = 0.024","T":1.259e-4,"y":0.235},{"n":"Γ₀ = 0.024","T":3.981e-4,"y":0.243},{"n":"Γ₀ = 0.024","T":1e-3,"y":0.246},{"n":"Γ₀ = 0.024","T":1e-2,"y":0.249},
{"n":"Γ₀ = 0.035","T":3.981e-19,"y":0},{"n":"Γ₀ = 0.035","T":3.981e-18,"y":0.003},{"n":"Γ₀ = 0.035","T":3.162e-17,"y":0.012},{"n":"Γ₀ = 0.035","T":1e-16,"y":0.025},{"n":"Γ₀ = 0.035","T":3.162e-16,"y":0.05},{"n":"Γ₀ = 0.035","T":1e-15,"y":0.105},{"n":"Γ₀ = 0.035","T":5.012e-15,"y":0.162},{"n":"Γ₀ = 0.035","T":3.981e-14,"y":0.2},{"n":"Γ₀ = 0.035","T":3.981e-13,"y":0.216},{"n":"Γ₀ = 0.035","T":3.162e-11,"y":0.23},{"n":"Γ₀ = 0.035","T":2.512e-8,"y":0.236},{"n":"Γ₀ = 0.035","T":1e-5,"y":0.24},{"n":"Γ₀ = 0.035","T":1e-4,"y":0.243},{"n":"Γ₀ = 0.035","T":1e-3,"y":0.247},{"n":"Γ₀ = 0.035","T":1e-2,"y":0.249},
{"n":"Γ₀ = 0.042","T":7.943e-31,"y":0.222},{"n":"Γ₀ = 0.042","T":1e-29,"y":0.227},{"n":"Γ₀ = 0.042","T":1e-28,"y":0.23},{"n":"Γ₀ = 0.042","T":1e-26,"y":0.234},{"n":"Γ₀ = 0.042","T":1e-24,"y":0.237},{"n":"Γ₀ = 0.042","T":1e-20,"y":0.239},{"n":"Γ₀ = 0.042","T":1e-15,"y":0.241},{"n":"Γ₀ = 0.042","T":1e-10,"y":0.242},{"n":"Γ₀ = 0.042","T":1e-6,"y":0.243},{"n":"Γ₀ = 0.042","T":3.162e-5,"y":0.244},{"n":"Γ₀ = 0.042","T":3.162e-4,"y":0.246},{"n":"Γ₀ = 0.042","T":1e-3,"y":0.248},{"n":"Γ₀ = 0.042","T":3.162e-3,"y":0.249},{"n":"Γ₀ = 0.042","T":2.512e-2,"y":0.25},{"n":"Γ₀ = 0.042","T":4.467e-2,"y":0.247},{"n":"Γ₀ = 0.042","T":7.079e-2,"y":0.235},{"n":"Γ₀ = 0.042","T":0.1122,"y":0.216},{"n":"Γ₀ = 0.042","T":0.2239,"y":0.185},{"n":"Γ₀ = 0.042","T":0.4467,"y":0.161},{"n":"Γ₀ = 0.042","T":0.7943,"y":0.145},{"n":"Γ₀ = 0.042","T":1.259,"y":0.139},{"n":"Γ₀ = 0.042","T":1.778,"y":0.136}
]
},
"spacing":15,
"resolve":{"scale":{"color":"independent"}},
"hconcat":[
{
 "width":519,"height":303,
 "resolve":{"scale":{"color":"independent"},"axis":{"x":"independent","y":"independent"}},
 "layer":[
  {"data":{"name":"fam"},
   "mark":{"type":"line","clip":true,"strokeWidth":1.7,"interpolate":"monotone"},
   "encoding":{
    "x":{"field":"T","type":"quantitative","scale":{"type":"log","domain":[8.5e-31,1.74],"nice":false},
         "axis":{"orient":"bottom","values":[1e-27,1e-23,1e-19,1e-15,1e-11,1e-7,0.001],"labelExpr":"datum.value < 1e-26 ? '10⁻²⁷' : datum.value < 1e-22 ? '10⁻²³' : datum.value < 1e-18 ? '10⁻¹⁹' : datum.value < 1e-14 ? '10⁻¹⁵' : datum.value < 1e-10 ? '10⁻¹¹' : datum.value < 1e-6 ? '10⁻⁷' : '10⁻³'","tickSize":-7,"labelPadding":12,"labelFlush":false,"title":"T/D","titlePadding":7}},
    "y":{"field":"y","type":"quantitative","scale":{"domain":[-0.2715,0.4545],"nice":false,"zero":false},
         "axis":{"orient":"left","values":[-0.2,-0.1,0,0.1,0.2,0.3,0.4],"format":".1f","tickSize":-6,"labelPadding":8,"title":"Tχ^QD₁(T)","titleFontSize":22,"titlePadding":8}},
    "detail":{"field":"g","type":"nominal"},
    "color":{"field":"g","type":"quantitative","scale":{"domain":[0.002,0.0228,0.0245,0.041],"range":["#dde9f6","#82bbe3","#3d88c9","#1e5699"]},"legend":null}
   }},
  {"data":{"name":"spec"},
   "transform":[{"filter":"datum.n === 'Γ₀ = 0.001'"}],
   "mark":{"type":"line","clip":true,"strokeWidth":1.3,"interpolate":"monotone"},
   "encoding":{
    "x":{"field":"T","type":"quantitative","axis":{"orient":"top","values":[1e-27,1e-23,1e-19,1e-15,1e-11,1e-7,0.001],"labels":false,"tickSize":-7,"title":null}},
    "y":{"field":"y","type":"quantitative","axis":{"orient":"right","values":[-0.2,-0.1,0,0.1,0.2,0.3,0.4],"labels":false,"tickSize":-6,"title":null}},
    "color":{"field":"n","type":"nominal","scale":{"domain":["Γ₀ = 0.001","Γ₀ = 0.023","Γ₀ = 0.024","Γ₀ = 0.035","Γ₀ = 0.042"],"range":["#ffa500","#808080","#800080","#000000","#ff0000"]},"legend":null}
   }},
  {"data":{"name":"spec"},
   "transform":[{"filter":"datum.n === 'Γ₀ = 0.023' || datum.n === 'Γ₀ = 0.024' || datum.n === 'Γ₀ = 0.035'"}],
   "mark":{"type":"line","clip":true,"strokeWidth":2.8,"interpolate":"monotone"},
   "encoding":{
    "x":{"field":"T","type":"quantitative","axis":null},
    "y":{"field":"y","type":"quantitative","axis":{"orient":"left","values":[-0.26,-0.24,-0.22,-0.18,-0.16,-0.14,-0.12,-0.08,-0.06,-0.04,-0.02,0.02,0.04,0.06,0.08,0.12,0.14,0.16,0.18,0.22,0.24,0.26,0.28,0.32,0.34,0.36,0.38,0.42,0.44],"labels":false,"tickSize":-3.5,"title":null}},
    "color":{"field":"n","type":"nominal","scale":{"domain":["Γ₀ = 0.001","Γ₀ = 0.023","Γ₀ = 0.024","Γ₀ = 0.035","Γ₀ = 0.042"],"range":["#ffa500","#808080","#800080","#000000","#ff0000"]},"legend":null}
   }},
  {"data":{"name":"spec"},
   "transform":[{"filter":"datum.n === 'Γ₀ = 0.042'"}],
   "mark":{"type":"line","clip":true,"strokeWidth":3.4,"interpolate":"monotone"},
   "encoding":{
    "x":{"field":"T","type":"quantitative","axis":null},
    "y":{"field":"y","type":"quantitative","axis":{"orient":"right","values":[-0.26,-0.24,-0.22,-0.18,-0.16,-0.14,-0.12,-0.08,-0.06,-0.04,-0.02,0.02,0.04,0.06,0.08,0.12,0.14,0.16,0.18,0.22,0.24,0.26,0.28,0.32,0.34,0.36,0.38,0.42,0.44],"labels":false,"tickSize":-3.5,"title":null}},
    "color":{"field":"n","type":"nominal","scale":{"domain":["Γ₀ = 0.001","Γ₀ = 0.023","Γ₀ = 0.024","Γ₀ = 0.035","Γ₀ = 0.042"],"range":["#ffa500","#808080","#800080","#000000","#ff0000"]},"legend":null}
   }},
  {"data":{"values":[{}]},
   "mark":{"type":"rule","color":"#ff0000","strokeWidth":2.5},
   "encoding":{"x":{"datum":9.12e-28,"type":"quantitative","axis":null},"x2":{"datum":2.14e-13},"y":{"datum":0.3321,"type":"quantitative","axis":null}}},
  {"data":{"values":[{}]},
   "mark":{"type":"point","shape":"M-1,-0.5L1,0L-1,0.5Z","filled":true,"color":"#ff0000","opacity":1,"size":529},
   "encoding":{"x":{"datum":2.14e-13,"type":"quantitative","axis":null},"y":{"datum":0.3321,"type":"quantitative","axis":null}}},
  {"data":{"values":[{}]},
   "mark":{"type":"text","text":"(a)","font":"Liberation Sans","fontWeight":"bold","fontSize":28,"align":"left","baseline":"middle","color":"#000"},
   "encoding":{"x":{"datum":3.39e-30,"type":"quantitative","axis":null},"y":{"datum":0.4014,"type":"quantitative","axis":null}}},
  {"data":{"values":[{}]},
   "mark":{"type":"text","text":"smaller","font":"Liberation Sans","fontWeight":"bold","fontSize":19,"align":"left","baseline":"middle","color":"#ff0000"},
   "encoding":{"x":{"datum":6.17e-22,"type":"quantitative","axis":null},"y":{"datum":0.3765,"type":"quantitative","axis":null}}},
  {"data":{"values":[{}]},
   "mark":{"type":"text","text":"Γ₀","font":"Liberation Serif","fontStyle":"italic","fontWeight":"bold","fontSize":21,"align":"left","baseline":"middle","color":"#ff0000"},
   "encoding":{"x":{"datum":7.41e-18,"type":"quantitative","axis":null},"y":{"datum":0.3765,"type":"quantitative","axis":null}}}
 ]
},
{
 "width":156,"height":303,
 "resolve":{"scale":{"color":"independent"},"axis":{"x":"independent","y":"independent"}},
 "layer":[
  {"data":{"name":"fam"},
   "mark":{"type":"line","clip":true,"strokeWidth":1.7,"interpolate":"monotone"},
   "encoding":{
    "x":{"field":"T","type":"quantitative","scale":{"type":"log","domain":[1e-7,1],"nice":false},
         "axis":{"orient":"bottom","values":[1e-7,1e-4,0.1],"labelExpr":"datum.value < 1e-6 ? '10⁻⁷' : datum.value < 1e-3 ? '10⁻⁴' : '10⁻¹'","tickSize":-7,"labelPadding":12,"labelFlush":false,"title":"T/D","titlePadding":7}},
    "y":{"field":"y","type":"quantitative","scale":{"domain":[-0.2715,0.4545],"nice":false,"zero":false},
         "axis":{"orient":"left","values":[-0.2,-0.1,0,0.1,0.2,0.3,0.4],"labels":false,"tickSize":-6,"title":null}},
    "detail":{"field":"g","type":"nominal"},
    "color":{"field":"g","type":"quantitative","scale":{"domain":[0.002,0.0228,0.0245,0.041],"range":["#dde9f6","#82bbe3","#3d88c9","#1e5699"]},"legend":null}
   }},
  {"data":{"name":"spec"},
   "transform":[{"filter":"datum.n === 'Γ₀ = 0.001'"}],
   "mark":{"type":"line","clip":true,"strokeWidth":1.3,"interpolate":"monotone"},
   "encoding":{
    "x":{"field":"T","type":"quantitative","axis":{"orient":"top","values":[1e-7,1e-4,0.1],"labels":false,"tickSize":-7,"title":null}},
    "y":{"field":"y","type":"quantitative","axis":{"orient":"right","values":[-0.2,-0.1,0,0.1,0.2,0.3,0.4],"format":".1f","tickSize":-6,"labelPadding":9,"title":null}},
    "color":{"field":"n","type":"nominal","scale":{"domain":["Γ₀ = 0.001","Γ₀ = 0.023","Γ₀ = 0.024","Γ₀ = 0.035","Γ₀ = 0.042"],"range":["#ffa500","#808080","#800080","#000000","#ff0000"]},
      "legend":{"orient":"none","legendX":53,"legendY":174,"title":null,"padding":0,"symbolType":"stroke","symbolStrokeWidth":3.5,"symbolSize":100,"labelFont":"Liberation Serif","labelFontStyle":"italic","labelFontWeight":"bold","labelFontSize":15,"labelColor":"#000","labelOffset":12,"rowPadding":8.5}}
   }},
  {"data":{"name":"spec"},
   "transform":[{"filter":"datum.n === 'Γ₀ = 0.023' || datum.n === 'Γ₀ = 0.024' || datum.n === 'Γ₀ = 0.035'"}],
   "mark":{"type":"line","clip":true,"strokeWidth":2.8,"interpolate":"monotone"},
   "encoding":{
    "x":{"field":"T","type":"quantitative","axis":null},
    "y":{"field":"y","type":"quantitative","axis":{"orient":"left","values":[-0.26,-0.24,-0.22,-0.18,-0.16,-0.14,-0.12,-0.08,-0.06,-0.04,-0.02,0.02,0.04,0.06,0.08,0.12,0.14,0.16,0.18,0.22,0.24,0.26,0.28,0.32,0.34,0.36,0.38,0.42,0.44],"labels":false,"tickSize":-3.5,"title":null}},
    "color":{"field":"n","type":"nominal","scale":{"domain":["Γ₀ = 0.001","Γ₀ = 0.023","Γ₀ = 0.024","Γ₀ = 0.035","Γ₀ = 0.042"],"range":["#ffa500","#808080","#800080","#000000","#ff0000"]},"legend":null}
   }},
  {"data":{"name":"spec"},
   "transform":[{"filter":"datum.n === 'Γ₀ = 0.042'"}],
   "mark":{"type":"line","clip":true,"strokeWidth":3.4,"interpolate":"monotone"},
   "encoding":{
    "x":{"field":"T","type":"quantitative","axis":null},
    "y":{"field":"y","type":"quantitative","axis":{"orient":"right","values":[-0.26,-0.24,-0.22,-0.18,-0.16,-0.14,-0.12,-0.08,-0.06,-0.04,-0.02,0.02,0.04,0.06,0.08,0.12,0.14,0.16,0.18,0.22,0.24,0.26,0.28,0.32,0.34,0.36,0.38,0.42,0.44],"labels":false,"tickSize":-3.5,"title":null}},
    "color":{"field":"n","type":"nominal","scale":{"domain":["Γ₀ = 0.001","Γ₀ = 0.023","Γ₀ = 0.024","Γ₀ = 0.035","Γ₀ = 0.042"],"range":["#ffa500","#808080","#800080","#000000","#ff0000"]},"legend":null}
   }},
  {"data":{"values":[{}]},
   "mark":{"type":"text","text":"(b)","font":"Liberation Sans","fontWeight":"bold","fontSize":28,"align":"left","baseline":"middle","color":"#000"},
   "encoding":{"x":{"datum":3.31e-7,"type":"quantitative","axis":null},"y":{"datum":0.4014,"type":"quantitative","axis":null}}}
 ]
}
]
}
